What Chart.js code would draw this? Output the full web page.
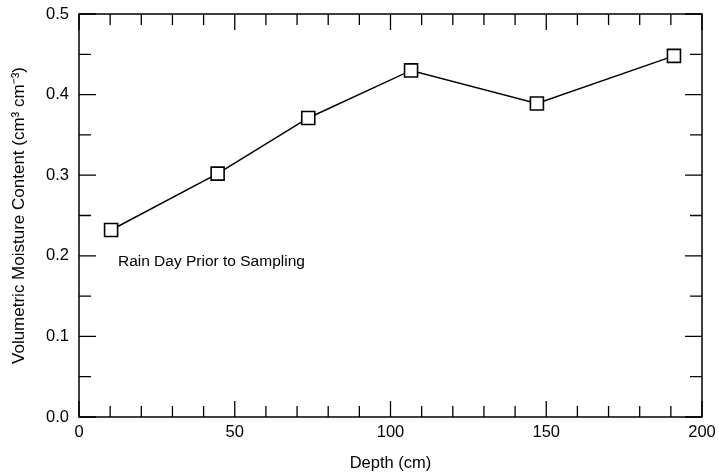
<!DOCTYPE html>
<html>
<head>
<meta charset="utf-8">
<script src="https://cdn.jsdelivr.net/npm/chart.js@4/dist/chart.umd.min.js"></script>
<style>
html,body{margin:0;padding:0;background:#fff;}
#wrap{width:719px;height:473px;position:relative;}
</style>
</head>
<body>
<div id="wrap"><canvas id="c" width="719" height="473"></canvas></div>
<script>
const depthCm = [10.3, 44.5, 73.6, 106.6, 147, 191];
const moisture = [0.232, 0.302, 0.371, 0.430, 0.389, 0.448];
const xTicks = [0, 50, 100, 150, 200];
const yTicks = [0.0, 0.1, 0.2, 0.3, 0.4, 0.5];
const xMinorStep = 10;
const yMinorStep = 0.05;
const annotationText = "Rain Day Prior to Sampling";
const annotationAt = [12.5, 0.1925];

const FONT = "'Liberation Sans', Arial, sans-serif";

const framePlugin = {
  id: 'frame',
  afterDraw(chart) {
    const {ctx, chartArea: a, scales: {x, y}} = chart;
    ctx.save();
    ctx.strokeStyle = '#000';
    ctx.lineWidth = 1.5;
    ctx.strokeRect(a.left, a.top, a.right - a.left, a.bottom - a.top);
    ctx.lineWidth = 1.3;
    ctx.beginPath();
    for (let v = x.min; v <= x.max + 1e-9; v += xMinorStep) {
      const px = x.getPixelForValue(v);
      const major = xTicks.some(t => Math.abs(t - v) < 1e-6);
      const len = major ? 16 : 11;
      ctx.moveTo(px, a.bottom); ctx.lineTo(px, a.bottom - len);
      ctx.moveTo(px, a.top); ctx.lineTo(px, a.top + len);
    }
    for (let v = y.min; v <= y.max + 1e-9; v += yMinorStep) {
      const py = y.getPixelForValue(v);
      const major = yTicks.some(t => Math.abs(t - v) < 1e-6);
      const len = major ? 17 : 12;
      ctx.moveTo(a.left, py); ctx.lineTo(a.left + len, py);
      ctx.moveTo(a.right, py); ctx.lineTo(a.right - len, py);
    }
    ctx.stroke();
    ctx.fillStyle = '#000';
    ctx.font = '15.5px ' + FONT;
    ctx.textAlign = 'left';
    ctx.textBaseline = 'middle';
    ctx.fillText(annotationText, x.getPixelForValue(annotationAt[0]), y.getPixelForValue(annotationAt[1]));
    ctx.restore();
  }
};

new Chart(document.getElementById('c'), {
  type: 'line',
  data: {
    datasets: [{
      data: depthCm.map((d, i) => ({x: d, y: moisture[i]})),
      borderColor: '#000',
      borderWidth: 1.5,
      pointStyle: 'rect',
      pointRadius: 9.2,
      pointHoverRadius: 9.2,
      pointBorderWidth: 1.6,
      pointBorderColor: '#000',
      pointBackgroundColor: '#fff',
      tension: 0
    }]
  },
  options: {
    responsive: false,
    animation: false,
    devicePixelRatio: 1,
    layout: {padding: {top: 14, right: 17, left: 0, bottom: 0}},
    plugins: {legend: {display: false}, tooltip: {enabled: false}},
    scales: {
      x: {
        type: 'linear', min: 0, max: 200,
        afterBuildTicks(s) { s.ticks = xTicks.map(v => ({value: v})); },
        afterFit(s) { s.height = 56; s.paddingLeft = 0; s.paddingRight = 0; },
        grid: {display: false, drawTicks: false},
        border: {display: false},
        ticks: {color: '#000', font: {family: FONT, size: 16.5}, padding: 6, maxRotation: 0},
        title: {display: true, text: 'Depth (cm)', color: '#000', font: {family: FONT, size: 16.5}, padding: {top: 0, bottom: 0}}
      },
      y: {
        type: 'linear', min: 0, max: 0.5,
        afterBuildTicks(s) { s.ticks = yTicks.map(v => ({value: v})); },
        afterFit(s) { s.width = 79; s.paddingTop = 0; s.paddingBottom = 0; },
        grid: {display: false, drawTicks: false},
        border: {display: false},
        ticks: {color: '#000', font: {family: FONT, size: 16.5}, padding: 10, callback: v => v.toFixed(1)},
        title: {display: true, text: 'Volumetric Moisture Content (cm³ cm⁻³)', color: '#000', font: {family: FONT, size: 17}, padding: {top: 9, bottom: 0}}
      }
    }
  },
  plugins: [framePlugin]
});
</script>
</body>
</html>
